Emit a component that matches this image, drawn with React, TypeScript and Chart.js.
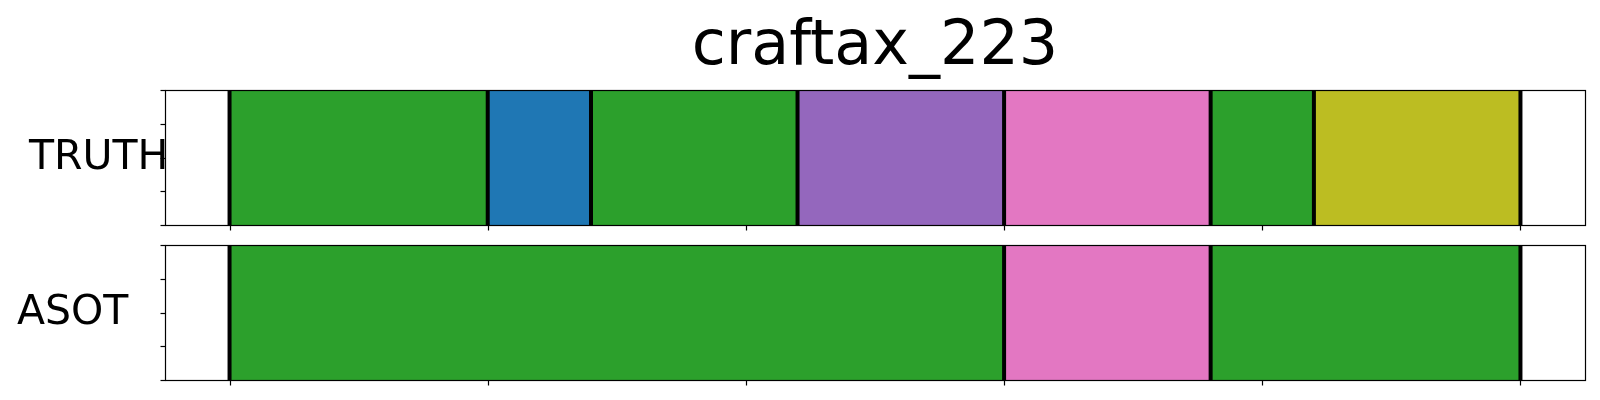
import React, { useEffect, useRef } from "react";
import { Chart, registerables } from "chart.js";

Chart.register(...registerables);

// ---- data ----
const TITLE = "craftax_223";
const ROW_LABELS = ["TRUTH", "ASOT"];
const TRUTH_BOUNDS = [0, 5, 7, 11, 15, 19, 21, 25];
const TRUTH_COLORS = ["#2ca02c", "#1f77b4", "#2ca02c", "#9467bd", "#e377c2", "#2ca02c", "#bcbd22"];
const ASOT_BOUNDS = [0, 15, 19, 25];
const ASOT_COLORS = ["#2ca02c", "#e377c2", "#2ca02c"];
const X_TICKS = [0, 5, 10, 15, 20, 25];
const Y_TICKS = [0, 0.25, 0.5, 0.75, 1];
const X_MIN = -1.25;
const X_MAX = 26.25;

const FONT = "'DejaVu Sans', 'Liberation Sans', sans-serif";

type RowCfg = {
  bounds: number[];
  colors: string[];
  label: string;
  labelX: number;
  labelBaseline: number;
  title?: string;
  padTop: number;
  padBottom: number;
};

function makeChart(canvas: HTMLCanvasElement, cfg: RowCfg) {
  const datasets = cfg.colors.map((c, i) => ({
    label: "seg" + i,
    data: [[cfg.bounds[i], cfg.bounds[i + 1]]] as any,
    backgroundColor: c,
    borderWidth: 0,
    grouped: false,
    barPercentage: 1,
    categoryPercentage: 1,
  }));

  const overlay = {
    id: "overlay",
    afterDatasetsDraw(chart: any) {
      const ctx = chart.ctx as CanvasRenderingContext2D;
      const { left, right, top, bottom } = chart.chartArea;
      const xs = chart.scales.x;
      ctx.save();
      // segment boundaries
      ctx.strokeStyle = "#000000";
      ctx.lineWidth = 4;
      for (const b of cfg.bounds) {
        const px = xs.getPixelForValue(b);
        ctx.beginPath();
        ctx.moveTo(px, top);
        ctx.lineTo(px, bottom);
        ctx.stroke();
      }
      // frame
      const L = Math.round(left) + 0.5;
      const R = Math.round(right) + 0.5;
      const T = Math.round(top) + 0.5;
      const B = Math.round(bottom) + 0.5;
      ctx.lineWidth = 1.2;
      ctx.strokeRect(L, T, R - L, B - T);
      // x ticks
      for (const t of X_TICKS) {
        const px = Math.round(xs.getPixelForValue(t)) + 0.5;
        ctx.beginPath();
        ctx.moveTo(px, B);
        ctx.lineTo(px, B + 5);
        ctx.stroke();
      }
      // y ticks (fractions of the axis height, bottom = 0)
      for (const t of Y_TICKS) {
        const py = Math.round(B - t * (B - T) - 0.5) + 0.5;
        ctx.beginPath();
        ctx.moveTo(L, py);
        ctx.lineTo(L - 5, py);
        ctx.stroke();
      }
      // row label
      ctx.fillStyle = "#000000";
      ctx.font = `41px ${FONT}`;
      ctx.textAlign = "left";
      ctx.textBaseline = "alphabetic";
      ctx.fillText(cfg.label, cfg.labelX, cfg.labelBaseline);
      // title
      if (cfg.title) {
        ctx.font = `62px ${FONT}`;
        ctx.textAlign = "center";
        ctx.fillText(cfg.title, (left + right) / 2, 63.5);
      }
      ctx.restore();
    },
  };

  return new Chart(canvas, {
    type: "bar",
    data: { labels: ["row"], datasets },
    options: {
      indexAxis: "y",
      responsive: false,
      animation: false,
      devicePixelRatio: 1,
      events: [],
      layout: { padding: { left: 165, right: 15, top: cfg.padTop, bottom: cfg.padBottom } },
      plugins: { legend: { display: false }, tooltip: { enabled: false }, title: { display: false } },
      scales: {
        x: { type: "linear", display: false, min: X_MIN, max: X_MAX },
        y: { type: "category", display: false, offset: true },
      },
    } as any,
    plugins: [overlay],
  } as any);
}

export default function App() {
  const ref1 = useRef<HTMLCanvasElement>(null);
  const ref2 = useRef<HTMLCanvasElement>(null);

  useEffect(() => {
    const c1 = makeChart(ref1.current!, {
      bounds: TRUTH_BOUNDS,
      colors: TRUTH_COLORS,
      label: ROW_LABELS[0],
      labelX: 29,
      labelBaseline: 168.5,
      title: TITLE,
      padTop: 90,
      padBottom: 175,
    });
    const c2 = makeChart(ref2.current!, {
      bounds: ASOT_BOUNDS,
      colors: ASOT_COLORS,
      label: ROW_LABELS[1],
      labelX: 17,
      labelBaseline: 323.5,
      padTop: 245,
      padBottom: 20,
    });
    return () => {
      c1.destroy();
      c2.destroy();
    };
  }, []);

  const canvasStyle: React.CSSProperties = { position: "absolute", left: 0, top: 0, width: 1600, height: 400 };
  return (
    <div style={{ position: "fixed", left: 0, top: 0, width: 1600, height: 400, background: "#ffffff" }}>
      <canvas ref={ref1} width={1600} height={400} style={canvasStyle} />
      <canvas ref={ref2} width={1600} height={400} style={canvasStyle} />
    </div>
  );
}
